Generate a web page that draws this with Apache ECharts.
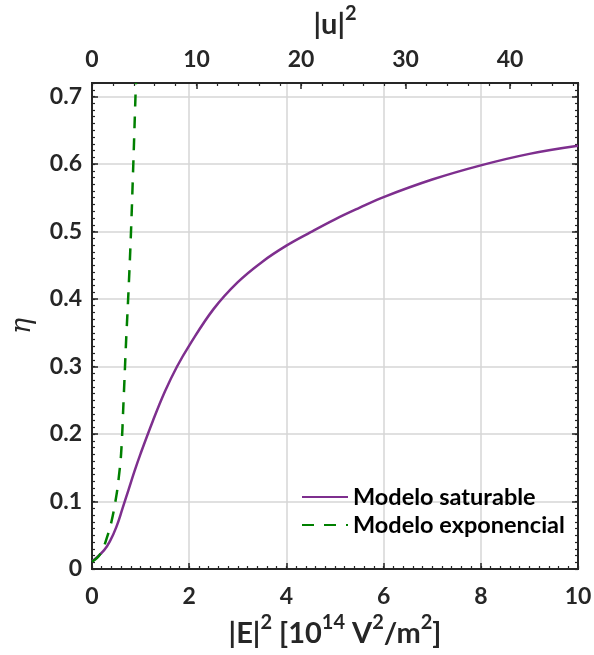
<!DOCTYPE html>
<html>
<head>
<meta charset="utf-8">
<script src="https://cdn.jsdelivr.net/npm/echarts@6/dist/echarts.min.js"></script>
<style>
  html, body { margin: 0; padding: 0; background: #fff; }
  #chart { width: 594px; height: 655px; }
</style>
</head>
<body>
<div id="chart"></div>
<script>
// saturable model
const satX = [0, 0.25, 0.375, 0.5, 0.625, 0.75, 0.875, 1.0, 1.25, 1.5, 1.75, 2.0, 2.5, 3.0, 3.5, 4.0, 4.5, 5.0, 5.5, 6.0, 7.0, 8.0, 9.0, 10]
const satY = [0.011, 0.028, 0.042, 0.062, 0.089, 0.117, 0.145, 0.171, 0.219, 0.263, 0.30, 0.331, 0.385, 0.425, 0.455, 0.479, 0.499, 0.518, 0.535, 0.551, 0.577, 0.598, 0.615, 0.627]
// exponential model
const expX = [0, 0.1, 0.2, 0.3, 0.4, 0.5, 0.55, 0.6, 0.65, 0.7, 0.75, 0.8, 0.85, 0.9, 0.905]
const expY = [0.011, 0.016, 0.026, 0.045, 0.07, 0.108, 0.135, 0.172, 0.25, 0.335, 0.41, 0.495, 0.60, 0.712, 0.72]

const xMax = 10
const uMax = 46.5
const yMax = 0.72

const ink = '#262626'
const font = 'Lato'

const pairs = (xs, ys) => xs.map((x, i) => [x, ys[i]])

const chart = echarts.init(document.getElementById('chart'))

const mainAxisLine = { show: true, onZero: false, lineStyle: { color: ink, width: 2 } }
const majorTick = { show: true, inside: true, length: 6, lineStyle: { color: ink, width: 1.5 } }
const minorTickStyle = { show: true, inside: true, length: 3, lineStyle: { color: ink, width: 1.2 } }
const grid = { show: true, lineStyle: { color: '#d6d6d6', width: 1.5 } }
const labelStyle = { color: ink, fontSize: 23, fontWeight: 'bold', fontFamily: font }
const titleRich = {
    a: { fontSize: 29, fontWeight: 'bold', fontFamily: font, color: ink, padding: [12, 0, 0, 0] },
    s: { fontSize: 20, fontWeight: 'bold', fontFamily: font, color: ink, padding: [0, 0, 9, 0] },
}

// extra axes that only carry the short (minor) ticks
const minorX = (pos, max, step) => ({
    type: 'value', position: pos, min: 0, max: max, interval: step,
    axisLine: mainAxisLine, axisTick: minorTickStyle,
    axisLabel: { show: false }, splitLine: { show: false },
})
const minorY = (pos) => ({
    type: 'value', position: pos, min: 0, max: yMax, interval: 0.01,
    axisLine: mainAxisLine, axisTick: minorTickStyle,
    axisLabel: { show: false }, splitLine: { show: false },
})

chart.setOption({
    animation: false,
    grid: { left: 92, right: 16, top: 83, bottom: 86, outerBoundsMode: 'none' },
    legend: {
        orient: 'vertical',
        left: 296,
        top: 480,
        itemWidth: 46,
        itemHeight: 14,
        itemGap: 4,
        itemStyle: { opacity: 0 },
        textStyle: { color: '#000', fontSize: 23.5, fontWeight: 'bold', fontFamily: font },
        data: ['Modelo saturable', 'Modelo exponencial'],
    },
    xAxis: [
        minorX('bottom', xMax, 0.2),
        minorX('top', uMax, 2),
        {
            type: 'value', position: 'bottom', min: 0, max: xMax, interval: 2,
            axisLine: mainAxisLine, axisTick: majorTick, splitLine: grid,
            axisLabel: Object.assign({ margin: 16 }, labelStyle),
            name: '{a||E|}{s|2}{a| [10}{s|14}{a| V}{s|2}{a|/m}{s|2}{a|]}',
            nameLocation: 'middle', nameGap: 30,
            nameTextStyle: { rich: titleRich },
        },
        {
            type: 'value', position: 'top', min: 0, max: uMax, interval: 10,
            axisLine: mainAxisLine, axisTick: majorTick, splitLine: { show: false },
            axisLabel: Object.assign({ margin: 12, showMaxLabel: false }, labelStyle),
            name: '{a||u|}{s|2}',
            nameLocation: 'middle', nameGap: 44,
            nameTextStyle: { rich: titleRich },
        },
    ],
    yAxis: [
        minorY('left'),
        minorY('right'),
        {
            type: 'value', position: 'left', min: 0, max: yMax, interval: 0.1,
            axisLine: mainAxisLine, axisTick: majorTick, splitLine: grid,
            axisLabel: Object.assign({
                margin: 10, showMaxLabel: false,
                formatter: v => {
                    const r = Math.round(v * 10) / 10
                    return r === 0 ? '0' : r.toFixed(1)
                },
            }, labelStyle),
            name: 'η', nameLocation: 'middle', nameGap: 56, nameRotate: 90,
            nameTextStyle: { fontSize: 27, fontStyle: 'italic', fontFamily: 'DejaVu Serif', color: ink },
        },
        {
            type: 'value', position: 'right', min: 0, max: yMax, interval: 0.1,
            axisLine: mainAxisLine, axisTick: majorTick, splitLine: { show: false },
            axisLabel: { show: false },
        },
    ],
    series: [
        {
            name: 'Modelo saturable',
            type: 'line',
            xAxisIndex: 2, yAxisIndex: 2,
            data: pairs(satX, satY),
            smooth: 0.4,
            symbol: 'none',
            color: '#7E2F8E',
            lineStyle: { color: '#7E2F8E', width: 2.5 },
        },
        {
            name: 'Modelo exponencial',
            type: 'line',
            xAxisIndex: 2, yAxisIndex: 2,
            data: pairs(expX, expY),
            smooth: 0.4,
            symbol: 'none',
            color: '#008000',
            lineStyle: { color: '#008000', width: 2.5, type: [12, 10] },
        },
    ],
})
</script>
</body>
</html>
